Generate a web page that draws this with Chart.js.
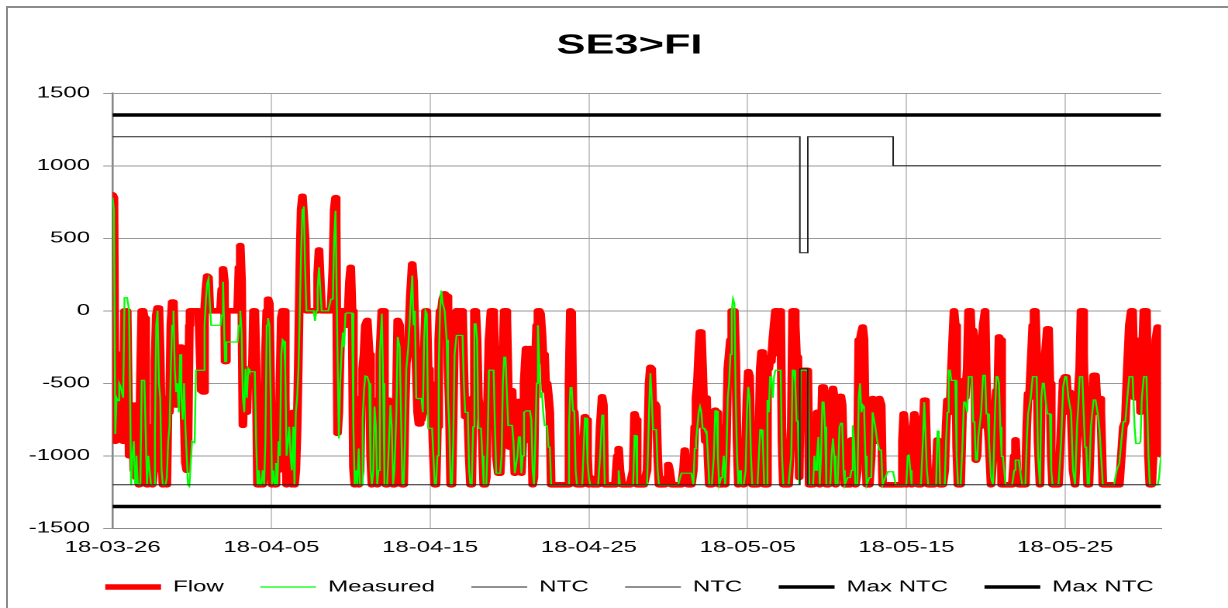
<!DOCTYPE html>
<html><head><meta charset="utf-8">
<script src="https://cdn.jsdelivr.net/npm/chart.js@4/dist/chart.umd.min.js"></script>
<style>
html,body{margin:0;padding:0;background:#fff;overflow:hidden;width:1228px;height:608px;}
#wrap{position:absolute;left:0;top:0;width:802px;height:608px;transform:scaleX(1.550505);transform-origin:0 0;}
#frame{position:absolute;left:6px;top:6px;right:0;bottom:0;border-left:2px solid #8c8c8c;border-top:2px solid #8c8c8c;pointer-events:none;}
</style></head><body>
<div id="wrap"><canvas id="c"></canvas></div>
<div id="frame"></div>
<script>
// time in hours since 18-03-26 00:00
const hours = [
0,2,4,6,8,10,12,14,16,18,20,22,25,28,30,32,34,36,38,40,42,44,46,48,50,
52,54,56,58,60,62,64,66,68,70,72,74,76,78,80,82,84,86,88,90,92,94,96,98,100,
102,104,106,108,110,112,114,116,117,120,124,126,130,134,137,139,141,143,145,147,149,
155,160,163,165,167,169,170,172,180,185,189,191,193,195,197,199,201,203,205,207,209,211,213,215,217,219,
221,223,225,227,229,231,233,235,237,239,241,243,245,247,249,251,253,255,257,259,261,263,265,267,269,271,273,275,277,279,281,283,285,287,289,291,293,
296,300,304,306,308,310,312,
316,320,326,330,333,335,337,338,340,342,
344,346,348,350,352,354,356,358,360,362,
364,366,368,370,372,374,376,378,380,382,
385,388,390,392,394,396,398,400,402,404,
407,409,411,413,415,417,420,422,424,426,
429,431,434,436,438,440,442,444,447,450,
453,455,457,459,461,463,465,467,469,471,
473,475,477,479,481,483,485,487,489,491,
493,495,497,499,502,505,507,509,511,513,
515,517,520,524,527,529,531,533,535,537,
539,541,543,545,547,549,551,553,555,557,
559,561,563,565,567,569,572,576,578,580,
583,586,588,590,592,594,596,598,600,602,
604,606,608,610,612,614,616,618,620,622,
625,628,631,
633,635,637,639,641,643,645,647,649,651,
653,655,657,659,661,663,666,670,676,682,
688,690,692,694,696,698,700,702,706,710,
714,716,718,720,722,726,730,734,737,740,
742,744,748,754,760,763,765,767,770,776,
782,787,789,791,793,797,803,808,811,813,
815,817,820,822,824,826,830,834,838,840,
842,845,850,855,858,860,863,865,867,870,
875,878,880,882,884,886,888,890,892,894,
896,898,900,902,906,909,911,913,915,917,
920,922,924,926,928,930,932,934,936,938,
940,942,944,946,948,
950,952,954,957,959,961,963,965,967,971,
975,977,979,981,983,985,988,990,992,994,
996,998,1000,1002,1004,1006,1008,1010,1012,1014,
1018,1022,1026,1028,1030,1032,1034,1036,1038,1040,
1044,1048,1051,1053,1056,1059,1061,1063,1065,1067,
1069,1071,1073,1075,1077,1079,1082,1085,1087,1089,
1091,1093,1096,1099,1101,1103,1105,1107,1111,1115,
1117,1119,1121,1123,1126,1128,1130,1132,1134,1136,
1138,1140,1144,1147,1149,1153,1156,1159,1162,1164,
1168,1172,1176,1180,1184,1188,1192,1194,1196,1198,
1200,1202,1204,1206,1208,1210,1212,1214,1216,1218,
1222,1225,1227,1229,1231,1233,1237,1241,1245,1247,
1249,1251,1255,1258,1260,1262,1264,1266,
1268,1270,1272,1274,1276,1278,1282,1285,1287,1289,
1292,1294,1297,1299,1301,1303,1305,1307,1309,1311,
1313,1316,1319,1321,1323,1325,1328,1331,1334,1336,
1338,1340,1342,1344,1346,1350,1355,1360,1363,1365,
1367,1370,1375,1380,1382,1384,1386,1388,1391,1393,
1395,1397,1399,1402,1404,1406,1408,1410,1413,1415,
1417,1419,1421,1425,1430,1434,1437,1440,1442,1445,
1447,1449,1452,1455,1458,1460,1462,1464,1466,1468,
1470,1472,1474,1476,1479,1483,1486,1489,1492,1494,
1497,1502,1508,1514,1518,1522,1525,1528,1531,1534,
1537,1540,1542,1545,1547,1549,1552,1554,1556,1559,
1561,1563,1566,1568,1571,1574,1577,1580,1582,1585
];
const flow = [
800,780,-900,-400,-850,-300,-780,-320,-900,0,-10,0,-1000,-1000,-650,-1100,-650,-1150,-900,-1200,-500,0,0,-50,-800,
-1200,-1100,-950,-800,-1200,-1100,-350,-30,20,20,-300,-900,-1200,-1200,-1100,-1200,-600,-700,-100,60,40,-300,-650,-400,-650,
-250,-500,-300,-700,-1050,-1100,-900,-100,0,0,0,0,0,-550,-560,0,150,240,230,0,0,
0,0,0,150,290,200,-350,0,0,0,0,300,450,200,-790,-500,-400,-700,-400,-500,-400,-450,0,0,-400,-1200,
-1100,-1200,-700,-1200,-1100,-300,0,80,50,-500,-1200,-1000,-1200,-950,-700,-1100,-500,-50,0,0,-600,-1200,-800,-1100,-800,-1200,-700,-1200,-1100,-800,-300,300,700,790,790,500,0,
0,0,0,0,0,250,420,
0,0,0,0,300,700,780,600,-845,-700,
-300,0,0,0,-100,0,0,200,300,0,
-1075,-1200,-1150,-780,-1200,-1100,-600,-400,-300,-100,
-66,-300,-1000,-1200,-900,-616,-700,-1200,-900,-300,
0,0,-900,-1200,-1200,-616,-650,-800,-1200,-1200,
-600,-66,-100,-600,-1200,-1200,-700,-364,-250,100,
323,200,-112,-400,-700,-780,-620,-750,-700,-300,
0,0,-400,-700,-500,-720,-1000,-1200,-1200,-800,
-200,0,0,80,117,100,-400,-650,-1200,-1200,
-700,-100,0,0,-100,0,-400,-730,-700,-730,
-1000,-1200,-1200,-600,0,0,-200,-600,-700,-650,
-900,-1200,-1200,-1150,-600,-200,0,0,-400,-1000,
-1120,-1120,-900,-300,0,0,-50,-500,-940,-700,
-550,-900,-1120,-1120,-800,-625,-1000,-1120,-900,-500,
-260,-280,-260,
-600,-1200,-1150,-400,-100,0,0,-20,-150,-350,
-300,-550,-500,-590,-700,-1200,-1200,-1200,-1200,-1200,
-1200,-500,0,-10,-680,-700,-900,-1200,-1200,-1200,
-730,-750,-1000,-1200,-1150,-1200,-1200,-1200,-800,-593,
-650,-1200,-1200,-1200,-1200,-1000,-950,-1100,-1200,-1200,
-1200,-1100,-710,-750,-1200,-1200,-1200,-1100,-500,-390,
-400,-700,-640,-660,-1000,-1200,-1200,-1200,-1150,-1060,
-1100,-1200,-1200,-1200,-1200,-1200,-1100,-960,-1100,-1200,
-1200,-1100,-800,-600,-500,-300,-146,-146,-400,-700,
-900,-600,-1000,-1200,-1200,-900,-685,-700,-1000,-1200,
-1200,-1000,-800,-1200,-900,-400,-300,-200,0,0,
0,-300,-900,-1200,-900,
-1000,-940,-1200,-900,-600,-420,-450,-900,-1200,-1200,
-1200,-900,-400,-284,-500,-1200,-1200,-340,-400,-318,
-350,-200,-100,0,0,0,-300,0,-900,-1200,
-1200,-1200,-800,0,0,-100,-318,-318,-1150,-410,
-410,-410,-410,-1200,-1200,-1200,-870,-900,-700,-700,
-1200,-900,-525,-525,-700,-1200,-1200,-1100,-600,-535,
-600,-1200,-1000,-650,-590,-650,-1000,-1200,-1200,-1200,
-890,-890,-1000,-1200,-1100,-200,-200,-150,-112,-200,
-800,-1200,-1200,-1000,-605,-700,-900,-605,-650,-1200,
-1200,-1200,-1200,-1200,-1200,-1200,-1200,-900,-710,-800,
-1200,-1100,-890,-1000,-1200,-900,-710,-750,-1100,-1200,
-1200,-900,-616,-650,-1000,-1200,-1200,-1200,-1100,-890,
-900,-1200,-1200,-1100,-800,-616,-616,-700,
-410,-200,0,-100,-940,-1200,-1200,-700,-480,-600,
-400,0,0,-300,-135,-200,-1030,-1000,-765,-800,
-400,-100,0,-500,-775,-900,-1200,-1000,-700,-550,
-600,-180,-200,-1200,-1200,-1200,-1200,-1200,-1000,-890,
-1100,-1200,-1200,-1200,-800,-570,-600,-400,-100,0,
0,-300,-900,-1200,-600,-455,-500,-300,-124,-124,
-500,-1000,-1200,-1200,-1200,-800,-480,-455,-455,-700,
-560,-700,-1100,-1200,-900,-560,-400,0,0,-300,
-775,-900,-1200,-1200,-800,-445,-445,-700,-605,-700,
-1200,-1200,-1200,-1200,-1200,-1200,-1000,-800,-765,-400,
-100,0,0,-600,-350,-204,-204,-700,-400,0,
0,0,-1000,-1200,-1200,-900,-200,-112,-200,-994
];
const measured = [
780,700,-850,-600,-620,-500,-520,-560,-600,90,90,90,0,-1200,-1000,-900,-1190,-1000,-1190,-1200,-1200,-480,-480,-480,-480,
-1200,-1000,-1100,-1200,-1200,-1200,-850,-100,0,-500,-600,-1100,-1200,-1200,-1200,-1150,-900,-800,-400,-100,0,-400,-560,-500,-700,
-300,-600,-750,-500,-800,-1000,-1200,-1210,-1210,-900,-910,-410,-410,-410,-410,-100,70,190,220,50,-100,
-100,-100,-100,-30,200,-200,-350,-215,-215,-215,-215,-100,0,-150,-600,-700,-400,-600,-400,-420,-420,-420,-420,-420,-900,-1200,
-1100,-1200,-1200,-1100,-1200,-900,-100,-50,-100,-600,-1200,-1100,-1200,-1050,-1200,-900,-1000,-300,-200,-210,-400,-1000,-900,-800,-1000,-1100,-800,-1200,-700,-600,-400,0,400,700,720,300,0,
0,0,0,-70,0,150,300,
0,0,0,80,80,500,690,690,-300,-880,
-500,-300,-150,-250,-20,-15,-15,-15,-15,-15,
-800,-1200,-1100,-1200,-950,-1200,-1200,-750,-550,-450,
-455,-500,-1100,-1200,-1100,-660,-800,-1200,-1100,-300,
-20,-500,-1200,-1200,-1200,-1000,-650,-800,-1200,-1100,
-700,-180,-250,-700,-1200,-1200,-900,-400,-250,0,
243,-100,0,-600,-605,-605,-605,-605,-700,-200,
0,-20,-810,-810,-810,-810,-1000,-1200,-1200,-1000,
-400,0,140,50,0,-200,-600,-800,-1200,-1200,
-900,-300,-170,-170,-170,-170,-500,-700,-700,-700,
-1100,-1200,-1200,-800,-90,-90,-200,-810,-810,-810,
-1000,-1200,-1200,-1200,-900,-410,-410,-410,-800,-1120,
-1120,-1120,-1000,-500,-320,-320,-320,-790,-790,-790,
-790,-900,-1120,-1120,-1000,-870,-870,-1120,-1000,-700,
-690,-690,-690,
-750,-1100,-1200,-900,-500,-100,-350,-600,-560,-700,
-790,-790,-800,-940,-940,-1200,-1200,-1200,-1200,-1200,
-1200,-800,-530,-530,-690,-690,-1100,-1200,-1200,-1200,
-740,-740,-1050,-1150,-1200,-1200,-1200,-1200,-1000,-720,
-720,-1200,-1200,-1200,-1200,-1200,-1100,-1200,-1200,-1200,
-1200,-1200,-860,-860,-1200,-1200,-1200,-1200,-700,-430,
-600,-820,-820,-820,-1100,-1200,-1200,-1200,-1200,-1200,
-1200,-1200,-1200,-1200,-1150,-1120,-1120,-1120,-1120,-1120,
-1120,-1200,-950,-900,-800,-700,-660,-700,-810,-810,
-830,-830,-1000,-1200,-1200,-1000,-690,-690,-1000,-1200,
-1150,-1100,-1000,-1200,-1000,-600,-500,-300,0,82,
50,-600,-1000,-1200,-1100,
-1200,-1200,-1200,-1100,-700,-525,-600,-1000,-1200,-1200,
-1200,-1000,-820,-820,-900,-1200,-1200,-615,-700,-455,
-455,-600,-455,-410,-410,-410,-410,-410,-1000,-1200,
-1200,-1200,-1000,-410,-410,-500,-760,-760,-1200,-410,
-410,-410,-410,-1200,-1200,-1200,-1000,-1100,-1000,-870,
-1200,-1000,-630,-630,-800,-1200,-1200,-1200,-1000,-880,
-1000,-1200,-1200,-800,-775,-775,-1100,-1200,-1150,-1150,
-1100,-790,-900,-1200,-1200,-600,-500,-700,-650,-660,
-1000,-1200,-1150,-1150,-700,-800,-900,-960,-960,-1200,
-1150,-1110,-1110,-1110,-1200,-1200,-1200,-1200,-1200,-1200,
-1200,-1000,-995,-1100,-1200,-1200,-1200,-1200,-1200,-1200,
-1200,-900,-630,-630,-1100,-1200,-1200,-1200,-1200,-830,
-830,-1200,-1200,-1200,-900,-700,-410,-410,
-480,-480,-480,-480,-1000,-1200,-1200,-900,-630,-630,
-700,-455,-455,-455,-765,-765,-1030,-1030,-860,-860,
-700,-445,-445,-710,-710,-900,-1150,-1200,-700,-455,
-455,-500,-800,-1005,-1005,-1200,-1200,-1200,-1100,-1030,
-1030,-1030,-1200,-1200,-900,-710,-710,-600,-455,-455,
-455,-455,-1000,-1200,-600,-500,-500,-600,-710,-710,
-710,-1100,-1200,-1200,-1200,-900,-525,-455,-455,-600,
-600,-700,-1100,-1200,-800,-650,-455,-455,-455,-455,
-940,-940,-1200,-1200,-800,-615,-615,-700,-820,-820,
-1200,-1200,-1200,-1200,-1100,-1050,-900,-765,-765,-600,
-455,-455,-455,-800,-915,-915,-915,-900,-600,-455,
-455,-455,-1000,-1200,-1200,-1200,-1200,-1200,-1150,-1000
];
// NTC limits (step changes)
const ntcUpperHours = [0, 1039, 1051, 1180, 1585];
const ntcUpper = [1200, 400, 1200, 1000, 1000];
const ntcLowerHours = [0, 1039, 1051, 1585];
const ntcLower = [-1200, -400, -1200, -1200];
const maxNtcHours = [0, 1585];
const maxNtcUpper = [1350, 1350];
const maxNtcLower = [-1350, -1350];
// axes
const xTickLabels = ['18-03-26','18-04-05','18-04-15','18-04-25','18-05-05','18-05-15','18-05-25'];
const X_STEP = 240;
const yTicks = [-1500, -1000, -500, 0, 500, 1000, 1500];

const FONT = "'Liberation Sans', Arial, sans-serif";
const xy = (xs, ys) => xs.map((x, i) => ({x: x, y: ys[i]}));

new Chart(document.getElementById('c'), {
  type: 'line',
  data: {
    datasets: [
      {label: 'Flow', data: xy(hours, flow), borderColor: '#ff0000', backgroundColor: '#ff0000',
       borderWidth: 5.6, borderJoinStyle: 'round', borderCapStyle: 'round', pointRadius: 0, tension: 0, order: 6},
      {label: 'Measured', data: xy(hours, measured), borderColor: '#00ff00', backgroundColor: '#00ff00',
       borderWidth: 1.2, pointRadius: 0, tension: 0, order: 5},
      {label: 'NTC', data: xy(ntcUpperHours, ntcUpper), borderColor: '#222', backgroundColor: '#222',
       borderWidth: 1, stepped: 'before', pointRadius: 0, order: 4},
      {label: 'NTC', data: xy(ntcLowerHours, ntcLower), borderColor: '#222', backgroundColor: '#222',
       borderWidth: 1, stepped: 'before', pointRadius: 0, order: 3},
      {label: 'Max NTC', data: xy(maxNtcHours, maxNtcUpper), borderColor: '#000', backgroundColor: '#000',
       borderWidth: 3.5, pointRadius: 0, order: 2},
      {label: 'Max NTC', data: xy(maxNtcHours, maxNtcLower), borderColor: '#000', backgroundColor: '#000',
       borderWidth: 3.5, pointRadius: 0, order: 1}
    ]
  },
  options: {
    responsive: true,
    maintainAspectRatio: false,
    animation: false,
    devicePixelRatio: 2,
    events: [],
    layout: {padding: {left: 10, right: 0, top: 0, bottom: 3.25}},
    plugins: {
      title: {display: true, text: 'SE3>FI', color: '#000',
        font: {family: FONT, size: 28, weight: 'bold'}, padding: {top: 29.2, bottom: 30.5}},
      legend: {position: 'bottom',
        labels: {usePointStyle: true, pointStyle: 'line', pointStyleWidth: 36, padding: 23.5,
          color: '#000', font: {family: FONT, size: 15.5},
          sort: (a, b) => a.datasetIndex - b.datasetIndex}},
      tooltip: {enabled: false}
    },
    scales: {
      x: {type: 'linear', min: 0, max: hours[hours.length - 1],
        afterBuildTicks: (s) => { s.ticks = xTickLabels.map((_, i) => ({value: i * X_STEP})); },
        afterFit: (s) => { s.height = 27.45; },
        ticks: {autoSkip: false, maxRotation: 0, minRotation: 0, padding: 9.9, color: '#000',
          font: {family: FONT, size: 15.5},
          callback: (v) => xTickLabels[Math.round(v / X_STEP)]},
        grid: {color: '#c8c8c8', lineWidth: 1, drawTicks: false},
        border: {color: '#888', width: 1}},
      y: {type: 'linear', min: -1500, max: 1500,
        afterBuildTicks: (s) => { s.ticks = yTicks.map(v => ({value: v})); },
        afterFit: (s) => { s.width = 62.62; },
        ticks: {padding: 8.5, color: '#000', font: {family: FONT, size: 15.5},
          callback: (v) => String(v)},
        grid: {color: '#999', lineWidth: 1, drawTicks: true, tickLength: 6},
        border: {color: '#888', width: 1.3}},
      y2: {type: 'linear', position: 'right', display: true, min: 0, max: 1,
        afterFit: (s) => { s.width = 53.2; },
        ticks: {display: false}, grid: {display: false, drawTicks: false}, border: {display: false}}
    }
  }
});
</script>
</body></html>
